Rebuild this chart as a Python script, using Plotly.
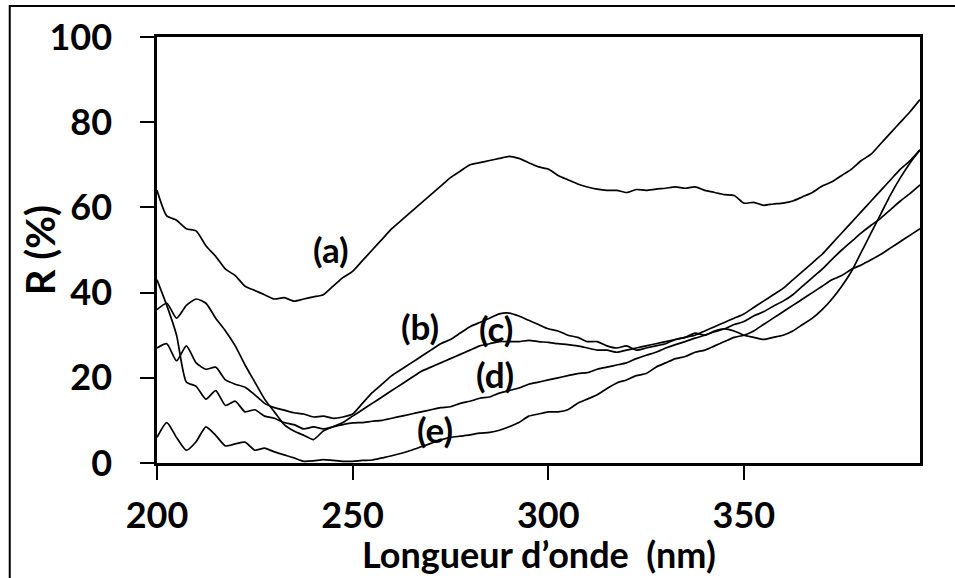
import plotly.graph_objects as go

# Wavelength grid (nm)
wavelength = [200, 202.5, 205, 207.5, 210, 212.5, 215, 217.5, 220, 222.5,
              225, 227.5, 230, 232.5, 235, 237.5, 240, 242.5, 245, 247.5,
              250, 252.5, 255, 257.5, 260, 262.5, 265, 267.5, 270, 272.5,
              275, 277.5, 280, 282.5, 285, 287.5, 290, 292.5, 295, 297.5,
              300, 302.5, 305, 307.5, 310, 312.5, 315, 317.5, 320, 322.5,
              325, 327.5, 330, 332.5, 335, 337.5, 340, 342.5, 345, 347.5,
              350, 352.5, 355, 357.5, 360, 362.5, 365, 367.5, 370, 372.5,
              375, 377.5, 380, 382.5, 385, 387.5, 390, 392.5, 395]

# Reflectance R (%) for each sample
r_a = [64, 58, 57, 55, 54.5, 51, 48.5, 45.5, 44, 41.5,
       40.5, 39.5, 38.5, 38.8, 38, 38.5, 39, 39.5, 41.5, 43.5,
       45, 47.5, 50, 52.5, 55, 57, 59, 61, 63, 65,
       67, 68.5, 70, 70.5, 71, 71.5, 72, 71.5, 70.5, 69.5,
       69, 67.5, 66.5, 65.5, 64.8, 64.3, 64, 64, 63.5, 64.2,
       64, 64.3, 64.5, 64.8, 64.5, 64.8, 64, 63.5, 63, 62.8,
       61, 61.2, 60.5, 60.8, 61, 61.5, 62.5, 63.5, 65, 66,
       67.5, 69, 71, 72.5, 75, 77.5, 80, 82.5, 85.3]

r_b = [27, 28, 24, 27.5, 23.5, 22, 22.5, 19.5, 18.5, 17.8,
       16, 14, 13, 12.4, 11.8, 11.5, 10.8, 11, 10.5, 10.8,
       11.5, 14, 16.5, 18.5, 20.5, 22, 23.5, 25, 26.5, 28,
       29, 30.5, 32, 33, 34, 35, 35.2, 34.5, 33.5, 32.5,
       31.5, 31, 30, 29.5, 28.5, 28.5, 27.5, 27, 27.5, 26.5,
       27, 27.5, 28, 29, 29.5, 30.5, 30, 31, 31.5, 31,
       30, 29.5, 29, 29.5, 30, 31, 32.5, 34, 36, 38.5,
       41.5, 45, 49.5, 54, 58.5, 63, 67, 70.5, 73.5]

r_c = [36, 37.5, 34, 37, 38.5, 37.5, 34, 31, 27.5, 23,
       19, 15, 12, 9, 7.5, 6.5, 5.5, 7.5, 8.5, 9.5,
       11, 12.5, 14, 15.5, 17, 18.5, 20, 21.5, 22.5, 23.5,
       24.5, 25.5, 26.5, 27.5, 28, 28.5, 28.5, 28.5, 28.8, 28.5,
       28.3, 28, 27.8, 27.5, 27, 26.5, 26.5, 26, 26.5, 27,
       27.5, 28, 28.5, 29, 29.5, 30, 31, 32, 33, 34,
       35, 36.5, 38, 39.5, 41, 43, 45, 47, 49, 51.5,
       54, 56.5, 59, 61.5, 64, 66.5, 69, 71, 73.5]

r_d = [43, 37, 30, 19, 18, 15, 17, 13.5, 14.5, 12,
       12.5, 11, 10.5, 9.5, 9, 8, 8.5, 8, 8.5, 9,
       9.4, 9.5, 9.8, 10, 10.5, 11, 11.5, 12, 12.5, 13,
       13.2, 14, 14.5, 15.2, 15.5, 16.4, 17, 17.6, 18.5, 19,
       19.5, 20, 20.5, 21, 21.2, 22, 22.5, 23, 23.5, 24.5,
       25.3, 26, 27, 27.8, 28.5, 29.3, 30, 30.8, 31.5, 32.5,
       33.2, 34.5, 35.5, 36.8, 38, 39.5, 41.5, 43.5, 45.5, 47.8,
       50, 52, 54, 55.8, 57.5, 59.5, 61.5, 63.3, 65.3]

r_e = [6, 9.5, 6, 3, 5, 8.5, 6.5, 4, 4.5, 4.9,
       3, 3.5, 2.6, 1.9, 1.2, 0.4, 0.5, 0.8, 0.6, 0.4,
       0.4, 0.6, 0.7, 1.2, 1.7, 2.3, 3, 3.8, 4.6, 5.4,
       6, 6.3, 6.6, 7, 7.2, 7.7, 8.5, 9.5, 11, 11.5,
       12, 12, 12.5, 14, 15, 16, 17.5, 18.8, 19.5, 20.5,
       21, 22.5, 23.5, 24.5, 25, 26, 26.5, 27.5, 28.5, 29.5,
       30, 31, 32.5, 34, 35.5, 37, 38.5, 40, 41.5, 43,
       44, 45.5, 46.5, 47.7, 49, 50.5, 52, 53.5, 55]

series = [("(a)", r_a), ("(b)", r_b), ("(c)", r_c), ("(d)", r_d), ("(e)", r_e)]

# label anchor points (nm, R%)
label_names = ["(a)", "(b)", "(c)", "(d)", "(e)"]
label_x = [244.4, 267.2, 286.6, 286.4, 271.0]
label_y = [50.2, 32.2, 31.7, 20.9, 8.0]

x_ticks = [200, 250, 300, 350]
y_ticks = [0, 20, 40, 60, 80, 100]

FONT = "Lato"

fig = go.Figure()
for name, vals in series:
    fig.add_trace(go.Scatter(
        x=wavelength, y=vals, mode="lines", name=name,
        line=dict(color="black", width=1.7, shape="spline", smoothing=0.6),
        showlegend=False,
    ))

for nm, xv, yv in zip(label_names, label_x, label_y):
    fig.add_annotation(x=xv, y=yv, text=nm, showarrow=False,
                       xref="x", yref="y",
                       font=dict(family=FONT, size=35, color="black", weight="bold"))

# axis titles as annotations
fig.add_annotation(x=0.5, y=-0.2136, xref="paper", yref="paper",
                   text="Longueur d\u2019onde \u00a0(nm)", showarrow=False,
                   xanchor="center", yanchor="middle",
                   font=dict(family=FONT, size=36, color="black", weight="bold"))
fig.add_annotation(x=-0.153, y=0.5, xref="paper", yref="paper",
                   text="R (%)", showarrow=False, textangle=-90,
                   xanchor="center", yanchor="middle",
                   font=dict(family=FONT, size=40, color="black", weight="bold"))

# outer frame
fig.add_shape(type="rect", xref="paper", yref="paper",
              x0=-0.193, x1=1.06, y0=-0.35, y1=1.0728,
              line=dict(color="black", width=2), fillcolor="rgba(0,0,0,0)",
              layer="below")

axis_common = dict(showline=True, linecolor="black", linewidth=2.5, mirror=True,
                   ticks="outside", ticklen=14, tickwidth=2, tickcolor="black",
                   showgrid=False, zeroline=False,
                   tickfont=dict(family=FONT, size=36, color="black", weight="bold"))

fig.update_xaxes(range=[200, 395], tickvals=x_ticks, ticklabelstandoff=5, **axis_common)
fig.update_yaxes(range=[0, 100], tickvals=y_ticks, ticklabelstandoff=21, **axis_common)

fig.update_layout(width=955, height=578,
                  margin=dict(l=157, r=35, t=37, b=115),
                  paper_bgcolor="white", plot_bgcolor="white")

fig.write_html("out.html",
               config={"displayModeBar": False},
               post_script="document.body.style.margin='0px';document.body.style.overflow='hidden';")
